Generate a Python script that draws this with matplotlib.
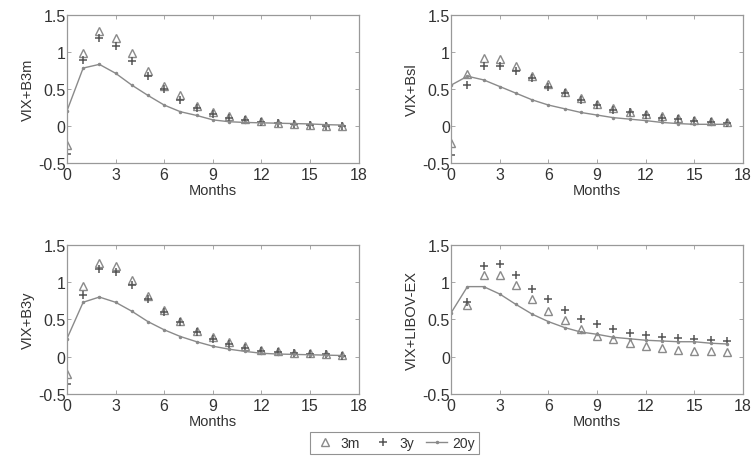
import numpy as np
import matplotlib
matplotlib.use('Agg')
import matplotlib.pyplot as plt

plt.rcParams['font.family'] = ['Liberation Sans', 'DejaVu Sans']

months = np.arange(18)

# VIX+B3m
b3m_3m = [-0.26, 0.98, 1.28, 1.18, 0.98, 0.74, 0.54, 0.41, 0.27, 0.18, 0.13, 0.09, 0.06, 0.04, 0.02, 0.015, 0.0, 0.0]
b3m_3y = [-0.38, 0.89, 1.18, 1.08, 0.88, 0.67, 0.50, 0.35, 0.24, 0.16, 0.10, 0.08, 0.05, 0.035, 0.02, 0.01, 0.0, 0.0]
b3m_20y = [0.20, 0.78, 0.83, 0.71, 0.55, 0.41, 0.28, 0.19, 0.14, 0.08, 0.055, 0.045, 0.04, 0.035, 0.03, 0.025, 0.015, 0.01]

# VIX+Bsl
bsl_3m = [-0.23, 0.70, 0.92, 0.90, 0.81, 0.67, 0.56, 0.45, 0.37, 0.29, 0.24, 0.19, 0.16, 0.13, 0.10, 0.08, 0.06, 0.045]
bsl_3y = [-0.40, 0.55, 0.81, 0.81, 0.74, 0.64, 0.53, 0.44, 0.35, 0.28, 0.22, 0.18, 0.14, 0.11, 0.09, 0.07, 0.055, 0.035]
bsl_20y = [0.55, 0.67, 0.62, 0.53, 0.44, 0.35, 0.28, 0.23, 0.18, 0.145, 0.11, 0.09, 0.07, 0.045, 0.03, 0.02, 0.02, 0.02]

# VIX+B3y
b3y_3m = [-0.23, 0.95, 1.26, 1.22, 1.03, 0.82, 0.62, 0.48, 0.35, 0.27, 0.19, 0.14, 0.09, 0.07, 0.055, 0.045, 0.03, 0.02]
b3y_3y = [-0.37, 0.83, 1.17, 1.13, 0.96, 0.78, 0.60, 0.47, 0.33, 0.24, 0.17, 0.11, 0.08, 0.065, 0.045, 0.035, 0.03, 0.015]
b3y_20y = [0.24, 0.73, 0.80, 0.73, 0.61, 0.47, 0.36, 0.27, 0.20, 0.14, 0.10, 0.07, 0.045, 0.035, 0.03, 0.025, 0.02, 0.015]

# VIX+LIBOV-EX (no markers at month 0)
lib_3m = [np.nan, 0.69, 1.10, 1.10, 0.96, 0.78, 0.61, 0.49, 0.37, 0.28, 0.23, 0.18, 0.14, 0.11, 0.09, 0.08, 0.08, 0.06]
lib_3y = [np.nan, 0.74, 1.22, 1.24, 1.10, 0.91, 0.77, 0.63, 0.51, 0.44, 0.37, 0.32, 0.29, 0.27, 0.25, 0.23, 0.22, 0.21]
lib_20y = [0.59, 0.94, 0.94, 0.84, 0.70, 0.57, 0.47, 0.39, 0.33, 0.30, 0.26, 0.24, 0.22, 0.21, 0.20, 0.20, 0.18, 0.17]

panels = [
    ('VIX+B3m', b3m_3m, b3m_3y, b3m_20y),
    ('VIX+Bsl', bsl_3m, bsl_3y, bsl_20y),
    ('VIX+B3y', b3y_3m, b3y_3y, b3y_20y),
    ('VIX+LIBOV-EX', lib_3m, lib_3y, lib_20y),
]

boxes = [
    [0.089, 0.647, 0.388, 0.319],
    [0.600, 0.647, 0.388, 0.319],
    [0.089, 0.149, 0.388, 0.321],
    [0.600, 0.149, 0.388, 0.321],
]

grey = '#8a8a8a'
fig = plt.figure(figsize=(7.52, 4.64), dpi=100)
for box, (name, s3m, s3y, s20y) in zip(boxes, panels):
    ax = fig.add_axes(box)
    l1, = ax.plot(months, s3m, linestyle='none', marker='^', markersize=5.5,
                  markerfacecolor='none', markeredgecolor=grey, markeredgewidth=1.0, label='3m')
    l2, = ax.plot(months, s3y, linestyle='none', marker='+', markersize=5.5,
                  color='#555555', markeredgewidth=1.1, label='3y')
    l3, = ax.plot(months, s20y, linestyle='-', color=grey, linewidth=1.0,
                  marker='.', markersize=3, label='20y')
    ax.set_xlim(0, 18)
    ax.set_ylim(-0.5, 1.5)
    ax.set_xticks(np.arange(0, 19, 3))
    ax.set_yticks([-0.5, 0, 0.5, 1, 1.5])
    ax.set_yticklabels(['-0.5', '0', '0.5', '1', '1.5'])
    ax.tick_params(axis='both', direction='in', top=True, right=True, length=3, width=0.6,
                   colors='#999999', labelcolor='#333333', labelsize=11.5)
    ax.tick_params(axis='x', pad=3)
    ax.tick_params(axis='y', pad=1)
    for sp in ax.spines.values():
        sp.set_color('#999999')
        sp.set_linewidth(0.9)
    ax.set_xlabel('Months', fontsize=10.5, color='#333333', labelpad=1)
    ax.set_ylabel(name, fontsize=10.5, color='#333333', labelpad=2)

leg = fig.legend([l1, l2, l3], ['3m', '3y', '20y'], loc='center',
                 bbox_to_anchor=(0.525, 0.043), ncol=3, fontsize=10,
                 frameon=True, fancybox=False, edgecolor='#777777',
                 handlelength=1.5, handletextpad=0.4, columnspacing=0.9,
                 borderpad=0.3, labelcolor='#333333')
leg.get_frame().set_linewidth(0.8)

fig.savefig('out.png', dpi=100, facecolor='white')
